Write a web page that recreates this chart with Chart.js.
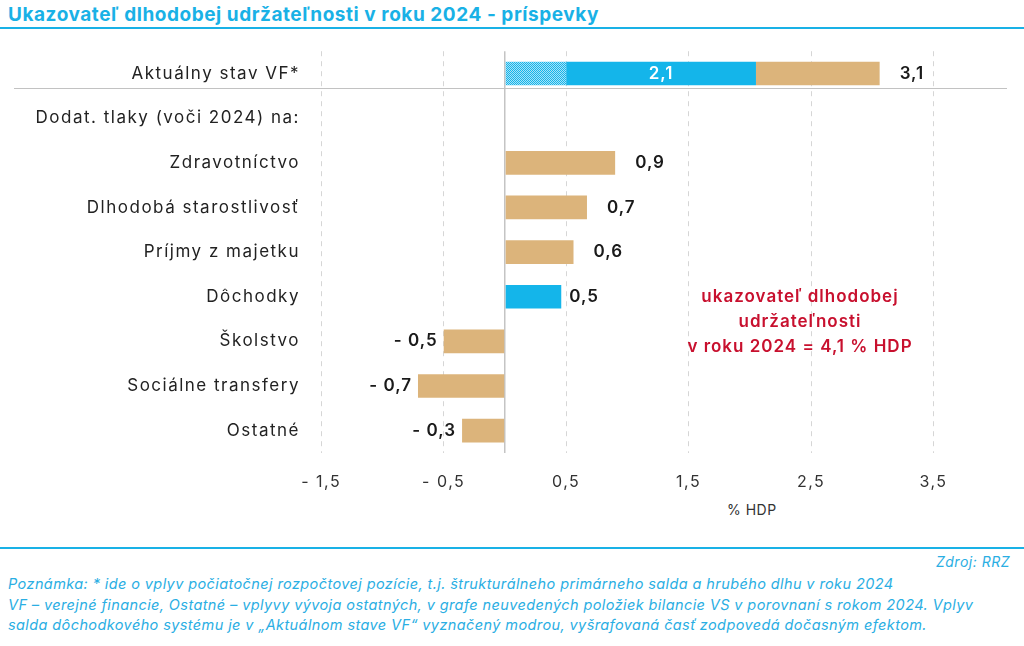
<!DOCTYPE html>
<html lang="sk">
<head>
<meta charset="utf-8">
<title>Ukazovateľ dlhodobej udržateľnosti</title>
<script src="https://cdn.jsdelivr.net/npm/chart.js@4.4.1/dist/chart.umd.min.js"></script>
<style>
  html, body { margin: 0; padding: 0; background: #fff; }
  body { width: 1024px; height: 646px; position: relative; overflow: hidden; font-family: Inter, "Noto Sans", sans-serif; }
  #title { position: absolute; left: 8px; top: 3px; font-size: 19px; font-weight: 700; color: #19b1e6; white-space: nowrap; letter-spacing: 0.55px; }
  #titleLine { position: absolute; left: 0; top: 27px; width: 1024px; height: 2px; background: #19b1e6; }
  #chartBox { position: absolute; left: 0; top: 40px; width: 1024px; height: 453px; }
  #unit { position: absolute; left: 727px; top: 501px; font-size: 14px; color: #333; letter-spacing: 0.5px; }
  #result { position: absolute; left: 660px; top: 284px; width: 280px; text-align: center; color: #c8102e; font-size: 17px; font-weight: 600; line-height: 25px; letter-spacing: 1px; }
  #footLine { position: absolute; left: 0; top: 547px; width: 1024px; height: 2px; background: #19b1e6; }
  #source { position: absolute; right: 14px; top: 553px; font-size: 14px; font-style: italic; color: #2aaee3; letter-spacing: 0.5px; }
  #notes { position: absolute; left: 8px; top: 574px; font-size: 14.5px; font-style: italic; color: #2aaee3; line-height: 20.5px; white-space: nowrap; letter-spacing: 0.4px; }
</style>
</head>
<body>
<div id="title">Ukazovateľ dlhodobej udržateľnosti v roku 2024 - príspevky</div>
<div id="titleLine"></div>
<div id="chartBox"><canvas id="chart" width="1024" height="453"></canvas></div>
<div id="unit">% HDP</div>
<div id="result">ukazovateľ dlhodobej<br>udržateľnosti<br>v roku 2024 = 4,1 % HDP</div>
<div id="footLine"></div>
<div id="source">Zdroj: RRZ</div>
<div id="notes">Poznámka: * ide o vplyv počiatočnej rozpočtovej pozície, t.j. štrukturálneho primárneho salda a hrubého dlhu v roku 2024<br>VF – verejné financie, Ostatné – vplyvy vývoja ostatných, v grafe neuvedených položiek bilancie VS v porovnaní s rokom 2024. Vplyv<br>salda dôchodkového systému je v „Aktuálnom stave VF“ vyznačený modrou, vyšrafovaná časť zodpovedá dočasným efektom.</div>

<script>
// --- dáta odčítané z grafu (% HDP) ---
const categories = ['Aktuálny stav VF*', 'Dodat. tlaky (voči 2024) na:', 'Zdravotníctvo', 'Dlhodobá starostlivosť',
    'Príjmy z majetku', 'Dôchodky', 'Školstvo', 'Sociálne transfery', 'Ostatné'];
const temporaryPart = [0.5, null, null, null, null, null, null, null, null];   // vyšrafovaná časť
const pensionPart  = [1.55, null, null, null, null, 0.46, null, null, null];   // modrá
const otherPart    = [1.01, null, 0.9, 0.67, 0.56, null, -0.5, -0.71, -0.35];   // béžová
const endLabels    = ['3,1', '', '0,9', '0,7', '0,6', '0,5', '- 0,5', '- 0,7', '- 0,3'];
const pensionLabel = '2,1';
const xTicks = [-1.5, -0.5, 0, 0.5, 1.5, 2.5, 3.5];

const BLUE = '#14b5ea';
const TAN = '#dcb47b';

// bodkovaný vzor pre dočasné efekty
function makeDots() {
    const c = document.createElement('canvas');
    c.width = 2; c.height = 2;
    const g = c.getContext('2d');
    g.fillStyle = '#a9e2f7';
    g.fillRect(0, 0, 2, 2);
    g.fillStyle = BLUE;
    g.fillRect(0, 0, 1, 1);
    g.fillRect(1, 1, 1, 1);
    return g.createPattern(c, 'repeat');
}

const spacingPlugin = {
    id: 'spacingPlugin',
    beforeDraw(chart) { chart.ctx.letterSpacing = '1.5px'; }
};

const labelsPlugin = {
    id: 'labelsPlugin',
    afterDraw(chart) {
        const ctx = chart.ctx;
        const x = chart.scales.x, y = chart.scales.y;
        const area = chart.chartArea;
        ctx.save();

        // deliaca čiara pod aktuálnym stavom
        const sepY = Math.round(y.getPixelForValue(0) + 14) + 0.5;
        ctx.strokeStyle = '#c2c2c2';
        ctx.lineWidth = 1.2;
        ctx.beginPath();
        ctx.moveTo(14, sepY);
        ctx.lineTo(area.right, sepY);
        ctx.stroke();

        // hodnoty na konci stĺpcov
        ctx.letterSpacing = '1px';
        ctx.textBaseline = 'middle';
        ctx.fillStyle = '#1a1a1a';
        ctx.font = '600 17px Inter, "Noto Sans", sans-serif';
        categories.forEach((c, i) => {
            if (!endLabels[i]) return;
            const total = (temporaryPart[i] || 0) + (pensionPart[i] || 0) + (otherPart[i] || 0);
            const px = x.getPixelForValue(total);
            const py = y.getPixelForValue(i);
            if (total >= 0) {
                ctx.textAlign = 'left';
                ctx.fillText(endLabels[i], px + (i === 5 ? 8 : 20), py);
            } else {
                ctx.textAlign = 'right';
                ctx.fillText(endLabels[i], px - 6, py);
            }
        });

        // 2,1 vo vnútri modrej časti
        const el = chart.getDatasetMeta(1).data[0];
        ctx.fillStyle = '#fff';
        ctx.textAlign = 'center';
        ctx.fillText(pensionLabel, (el.x + el.base) / 2, el.y);
        ctx.restore();
    }
};

new Chart(document.getElementById('chart'), {
    type: 'bar',
    data: {
        labels: categories,
        datasets: [
            { label: 'Dočasné efekty', data: temporaryPart, backgroundColor: makeDots() },
            { label: 'Dôchodky', data: pensionPart, backgroundColor: BLUE },
            { label: 'Ostatné', data: otherPart, backgroundColor: TAN }
        ]
    },
    options: {
        indexAxis: 'y',
        responsive: false,
        animation: false,
        layout: { padding: { top: 11, right: 17, bottom: 0, left: 0 } },
        datasets: { bar: { categoryPercentage: 1, barPercentage: 0.53, borderWidth: 0 } },
        plugins: { legend: { display: false }, tooltip: { enabled: false } },
        scales: {
            x: {
                stacked: true,
                min: -1.6,
                max: 4.1,
                afterBuildTicks: scale => { scale.ticks = xTicks.map(v => ({ value: v })); },
                afterFit: scale => { scale.height = 40; },
                grid: {
                    drawTicks: false,
                    color: ctx => (ctx.tick && ctx.tick.value === 0) ? '#c4c4c4' : '#d6d6d6',
                    lineWidth: ctx => (ctx.tick && ctx.tick.value === 0) ? 1.5 : 1
                },
                border: {
                    display: false,
                    dash: ctx => (ctx.tick && ctx.tick.value === 0) ? [] : [5, 5]
                },
                ticks: {
                    padding: 20,
                    color: '#333',
                    font: { size: 16, family: 'Inter, "Noto Sans", sans-serif' },
                    callback: v => v === 0 ? '' : (v < 0 ? '- ' : '') + Math.abs(v).toFixed(1).replace('.', ',')
                }
            },
            y: {
                stacked: true,
                afterFit: scale => { scale.width = 309; },
                grid: { display: false },
                border: { display: false },
                ticks: {
                    padding: 1,
                    color: '#222',
                    font: { size: 17, family: 'Inter, "Noto Sans", sans-serif' }
                }
            }
        }
    },
    plugins: [spacingPlugin, labelsPlugin]
});
</script>
</body>
</html>
